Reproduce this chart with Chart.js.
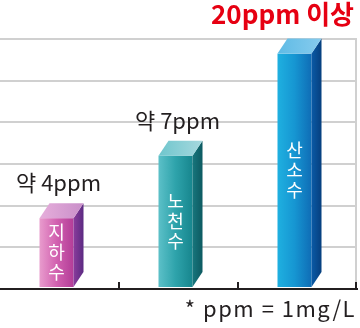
<!DOCTYPE html>
<html>
<head>
<meta charset="utf-8">
<script src="https://cdn.jsdelivr.net/npm/chart.js@4"></script>
<style>
  html, body { margin: 0; padding: 0; background: #fff; }
  #wrap { width: 360px; height: 328px; }
</style>
</head>
<body>
<div id="wrap"><canvas id="chart" width="360" height="328"></canvas></div>
<script>
// data (bar heights in grid units, 6 gridlines)
const categories = ['지하수', '노천수', '산소수'];
const heights = [1.7, 3.2, 5.65];
const valueLabels = ['약 4ppm', '약 7ppm', '20ppm 이상'];
const yTicks = [0, 1, 2, 3, 4, 5, 6];
const note = '* ppm = 1mg/L';

// colours for each bar: front gradient, side gradient, top gradient
const palette = [
    { front: ['#e89ccd', '#d261b0', '#b33d98'], side: ['#8a3c9c', '#5b2a82'], top: ['#e6aedb', '#c98fc9'] },
    { front: ['#5cc0c8', '#2ea3ab', '#17868e'], side: ['#17767d', '#0d5a61'], top: ['#6fc6cd', '#a6d8de'] },
    { front: ['#1fb0e0', '#1696d2', '#0f6db6'], side: ['#0a5aa6', '#063f7e'], top: ['#5fbbe5', '#86cbee'] }
];

const FONT = '"Noto Sans CJK KR", "Noto Sans", sans-serif';
const DX = 10;
const DY = 15;
const SHIFT = -3;

const boxPlugin = {
    id: 'box3d',
    afterDatasetsDraw(chart) {
        const ctx = chart.ctx;
        const meta = chart.getDatasetMeta(0);
        const area = chart.chartArea;

        // right border line
        ctx.save();
        ctx.strokeStyle = '#d0d0d0';
        ctx.lineWidth = 2;
        ctx.beginPath();
        ctx.moveTo(area.right - 1, chart.scales.y.getPixelForValue(yTicks[yTicks.length - 1]));
        ctx.lineTo(area.right - 1, area.bottom);
        ctx.stroke();
        ctx.restore();

        meta.data.forEach((bar, i) => {
            const c = palette[i];
            const xl = bar.x - bar.width / 2 + SHIFT;
            const xr = bar.x + bar.width / 2 + SHIFT;
            const yt = bar.y;
            const yb = bar.base - 1;

            ctx.save();
            // front
            let g = ctx.createLinearGradient(xl, 0, xr, 0);
            g.addColorStop(0, c.front[0]);
            g.addColorStop(0.5, c.front[1]);
            g.addColorStop(1, c.front[2]);
            ctx.fillStyle = g;
            ctx.fillRect(xl, yt, xr - xl, yb - yt);

            // side
            g = ctx.createLinearGradient(xr, 0, xr + DX, 0);
            g.addColorStop(0, c.side[0]);
            g.addColorStop(1, c.side[1]);
            ctx.fillStyle = g;
            ctx.beginPath();
            ctx.moveTo(xr, yt);
            ctx.lineTo(xr + DX, yt - DY);
            ctx.lineTo(xr + DX, yb - DY);
            ctx.lineTo(xr, yb);
            ctx.closePath();
            ctx.fill();

            // top
            g = ctx.createLinearGradient(xl, 0, xr + DX, 0);
            g.addColorStop(0, c.top[0]);
            g.addColorStop(1, c.top[1]);
            ctx.fillStyle = g;
            ctx.beginPath();
            ctx.moveTo(xl, yt);
            ctx.lineTo(xr, yt);
            ctx.lineTo(xr + DX, yt - DY);
            ctx.lineTo(xl + DX, yt - DY);
            ctx.closePath();
            ctx.fill();

            // vertical name inside the bar
            const chars = Array.from(categories[i]);
            const pitch = 20;
            const midY = (yt + yb) / 2;
            const cx = (xl + xr) / 2;
            ctx.fillStyle = '#ffffff';
            ctx.font = '18px ' + FONT;
            ctx.textAlign = 'center';
            ctx.textBaseline = 'middle';
            chars.forEach((ch, k) => {
                ctx.fillText(ch, cx, midY + (k - (chars.length - 1) / 2) * pitch);
            });

            // value label above the bar
            const last = i === meta.data.length - 1;
            ctx.font = (last ? 'bold 26px ' : '22px ') + FONT;
            ctx.fillStyle = last ? '#e60012' : '#231f20';
            ctx.textBaseline = 'alphabetic';
            const w = ctx.measureText(valueLabels[i]).width;
            let lx = cx + 2;
            if (lx + w / 2 > chart.width - 6) lx = chart.width - 6 - w / 2;
            ctx.fillText(valueLabels[i], lx, yt - (last ? 30 : 27));
            ctx.restore();
        });

        // axis ticks at the category boundaries
        const xs = chart.scales.x;
        ctx.save();
        ctx.strokeStyle = '#231f20';
        ctx.lineWidth = 2;
        ctx.beginPath();
        for (let i = 1; i <= categories.length; i++) {
            const px = i < categories.length
                ? (xs.getPixelForValue(i - 1) + xs.getPixelForValue(i)) / 2
                : area.right - 1;
            ctx.moveTo(px, area.bottom);
            ctx.lineTo(px, area.bottom - 7);
        }
        ctx.stroke();

        // footnote
        ctx.fillStyle = '#231f20';
        ctx.font = '22px ' + FONT;
        ctx.textAlign = 'right';
        ctx.textBaseline = 'alphabetic';
        ctx.letterSpacing = '1.5px';
        ctx.fillText(note, chart.width - 4, 317);
        ctx.restore();
    }
};

new Chart(document.getElementById('chart'), {
    type: 'bar',
    data: {
        labels: categories,
        datasets: [{
            data: heights,
            backgroundColor: 'rgba(0,0,0,0)',
            barThickness: 34
        }]
    },
    options: {
        responsive: false,
        animation: false,
        layout: { padding: { top: 39, right: 3, bottom: 39, left: 0 } },
        plugins: { legend: { display: false }, tooltip: { enabled: false } },
        scales: {
            x: {
                ticks: { display: false },
                grid: { display: false, drawTicks: false },
                border: { display: true, color: '#231f20', width: 2 }
            },
            y: {
                min: yTicks[0],
                max: yTicks[yTicks.length - 1],
                afterBuildTicks(scale) { scale.ticks = yTicks.map(v => ({ value: v })); },
                ticks: { display: false },
                grid: { color: '#d0d0d0', lineWidth: 2, drawTicks: false },
                border: { display: false }
            }
        }
    },
    plugins: [boxPlugin]
});
</script>
</body>
</html>
